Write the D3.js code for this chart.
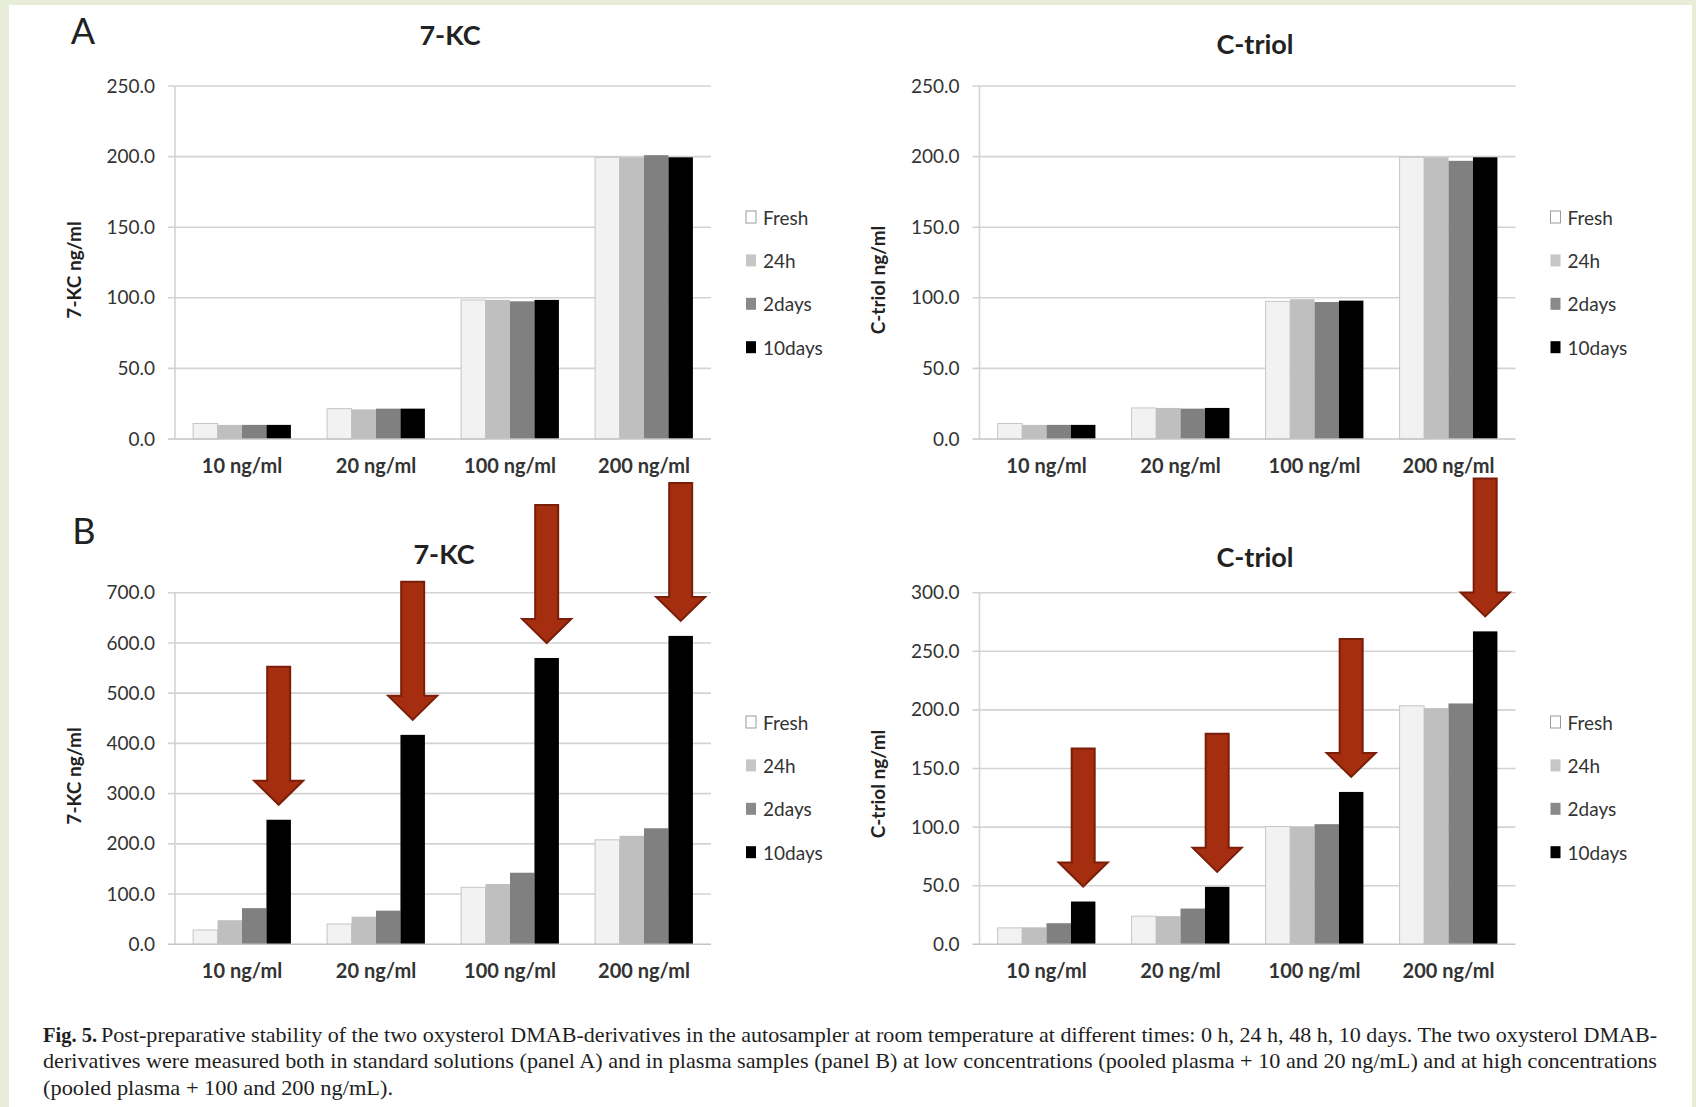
<!DOCTYPE html>
<html>
<head>
<meta charset="utf-8">
<script src="https://cdn.jsdelivr.net/npm/d3@7"></script>
<style>
  html, body { margin: 0; padding: 0; background: #e7edd6; }
  svg { display: block; }
  .sans { font-family: Lato, "Liberation Sans", "DejaVu Sans", sans-serif; }
  .serif { font-family: "Liberation Serif", "DejaVu Serif", serif; }
</style>
</head>
<body>
<svg id="fig" width="1696" height="1107"></svg>
<script>
// ---- data ----------------------------------------------------------
const categories = ["10 ng/ml", "20 ng/ml", "100 ng/ml", "200 ng/ml"];
const seriesNames = ["Fresh", "24h", "2days", "10days"];

// Panel A: standard solutions, 7-KC (ng/ml)
const stdKcFresh  = [11, 21.5, 98.5, 199.5];
const stdKc24h    = [10, 21, 98.5, 199.5];
const stdKc2days  = [10, 21.5, 97.5, 201];
const stdKc10days = [10, 21.5, 98.5, 199.5];

// Panel A: standard solutions, C-triol (ng/ml)
const stdCtFresh  = [11, 22, 97.5, 199.5];
const stdCt24h    = [10, 22, 99, 199.5];
const stdCt2days  = [10, 21.5, 97, 197];
const stdCt10days = [10, 22, 98, 199.5];

// Panel B: plasma samples, 7-KC (ng/ml)
const plKcFresh  = [28.5, 40.5, 113.5, 208];
const plKc24h    = [48, 55, 120, 216];
const plKc2days  = [72, 67, 142.5, 231];
const plKc10days = [248, 417, 570, 614];

// Panel B: plasma samples, C-triol (ng/ml)
const plCtFresh  = [14, 24, 100.5, 203.5];
const plCt24h    = [14.5, 24, 100.5, 201.5];
const plCt2days  = [18, 30.5, 102.5, 205.5];
const plCt10days = [36.5, 49, 130, 267];

// axis ticks
const ticksStd   = [0, 50, 100, 150, 200, 250];
const ticksPlKc  = [0, 100, 200, 300, 400, 500, 600, 700];
const ticksPlCt  = [0, 50, 100, 150, 200, 250, 300];

const captionBold = "Fig. 5.";
const captionLines = [
  "Post-preparative stability of the two oxysterol DMAB-derivatives in the autosampler at room temperature at different times: 0 h, 24 h, 48 h, 10 days. The two oxysterol DMAB-",
  "derivatives were measured both in standard solutions (panel A) and in plasma samples (panel B) at low concentrations (pooled plasma + 10 and 20 ng/mL) and at high concentrations",
  "(pooled plasma + 100 and 200 ng/mL)."
];

// ---- styles --------------------------------------------------------
const barFill   = { "Fresh": "#f2f2f2", "24h": "#bfbfbf", "2days": "#808080", "10days": "#000000" };
const swatchFill = { "Fresh": "#ffffff", "24h": "#c6c6c6", "2days": "#8a8a8a", "10days": "#000000" };
const gridColor = "#d3d3d3";
const arrowFill = "#a52d10";
const arrowStroke = "#7a1e08";

// ---- layout --------------------------------------------------------
const plotW = 536;
const panels = [
  { title: "7-KC", yLabel: "7-KC ng/ml", left: 175, top: 86, bottom: 439,
    series: [stdKcFresh, stdKc24h, stdKc2days, stdKc10days], ticks: ticksStd,
    titleX: 450, titleY: 34, yLabelY: 270, legendY: 217, arrows: false },
  { title: "C-triol", yLabel: "C-triol ng/ml", left: 979.5, top: 86, bottom: 439,
    series: [stdCtFresh, stdCt24h, stdCt2days, stdCt10days], ticks: ticksStd,
    titleX: 1255, titleY: 43, yLabelY: 280, legendY: 217, arrows: false },
  { title: "7-KC", yLabel: "7-KC ng/ml", left: 175, top: 592.7, bottom: 944.3,
    series: [plKcFresh, plKc24h, plKc2days, plKc10days], ticks: ticksPlKc,
    titleX: 444, titleY: 553, yLabelY: 776, legendY: 722, arrows: true },
  { title: "C-triol", yLabel: "C-triol ng/ml", left: 979.5, top: 592.7, bottom: 944.3,
    series: [plCtFresh, plCt24h, plCt2days, plCt10days], ticks: ticksPlCt,
    titleX: 1255, titleY: 556, yLabelY: 784, legendY: 722, arrows: true }
];

const svg = d3.select("#fig");

// page frame
svg.append("rect").attr("x", 9).attr("y", 5).attr("width", 1683).attr("height", 1102).attr("fill", "#ffffff");

// panel letters
svg.append("text").attr("class", "sans").attr("x", 83).attr("y", 30).attr("text-anchor", "middle")
  .attr("dominant-baseline", "central").attr("font-size", 36).attr("fill", "#222").text("A");
svg.append("text").attr("class", "sans").attr("x", 84).attr("y", 530).attr("text-anchor", "middle")
  .attr("dominant-baseline", "central").attr("font-size", 36).attr("fill", "#222").text("B");

panels.forEach(p => {
  const g = svg.append("g");
  const yMax = p.ticks[p.ticks.length - 1];
  const y = d3.scaleLinear().domain([0, yMax]).range([p.bottom, p.top]);
  const x0 = d3.scaleBand().domain(categories).range([p.left, p.left + plotW])
    .paddingInner(0.27).paddingOuter(0.135);
  const x1 = d3.scaleBand().domain(seriesNames).range([0, x0.bandwidth()]).padding(0);

  // gridlines, with short stubs left of the value axis
  g.append("g").selectAll("line").data(p.ticks.filter(t => t > 0)).join("line")
    .attr("x1", p.left - 7).attr("x2", p.left + plotW)
    .attr("y1", d => y(d)).attr("y2", d => y(d))
    .attr("stroke", gridColor).attr("stroke-width", 1.6);

  // vertical value axis line
  g.append("line").attr("x1", p.left).attr("x2", p.left).attr("y1", p.top).attr("y2", p.bottom)
    .attr("stroke", gridColor).attr("stroke-width", 1.6);

  // tick labels
  const yAxis = d3.axisLeft(y).tickValues(p.ticks).tickFormat(d3.format(".1f")).tickSize(0).tickPadding(20);
  g.append("g").attr("transform", `translate(${p.left},0)`).call(yAxis)
    .call(s => s.select(".domain").remove())
    .call(s => s.selectAll("text").attr("class", "sans").attr("font-size", 19).attr("fill", "#333"));

  // bars
  seriesNames.forEach((name, si) => {
    g.append("g").selectAll("rect").data(p.series[si]).join("rect")
      .attr("x", (d, i) => x0(categories[i]) + x1(name))
      .attr("width", x1.bandwidth())
      .attr("y", d => y(d))
      .attr("height", d => y(0) - y(d))
      .attr("fill", barFill[name])
      .attr("stroke", name === "Fresh" ? "#c6c6c6" : "none")
      .attr("stroke-width", 1);
  });

  // category baseline
  g.append("line").attr("x1", p.left - 7).attr("x2", p.left + plotW).attr("y1", p.bottom).attr("y2", p.bottom)
    .attr("stroke", "#c4c4c4").attr("stroke-width", 1.6);

  // category labels
  const xAxis = d3.axisBottom(x0).tickSize(0).tickPadding(20);
  g.append("g").attr("transform", `translate(0,${p.bottom})`).call(xAxis)
    .call(s => s.select(".domain").remove())
    .call(s => s.selectAll("text").attr("class", "sans").attr("font-size", 20).attr("font-weight", 700)
      .attr("fill", "#333"));

  // title
  g.append("text").attr("class", "sans").attr("x", p.titleX).attr("y", p.titleY)
    .attr("text-anchor", "middle").attr("dominant-baseline", "central")
    .attr("font-size", 27).attr("font-weight", 700).attr("fill", "#222").text(p.title);

  // value axis title
  g.append("text").attr("class", "sans")
    .attr("transform", `translate(${p.left - 102},${p.yLabelY}) rotate(-90)`)
    .attr("text-anchor", "middle").attr("dominant-baseline", "central")
    .attr("font-size", 19).attr("font-weight", 700).attr("fill", "#222").text(p.yLabel);

  // legend
  const lg = g.append("g").attr("transform", `translate(${p.left + 571},${p.legendY})`);
  seriesNames.forEach((name, i) => {
    const row = lg.append("g").attr("transform", `translate(0,${i * 43.4})`);
    row.append("rect").attr("x", 0).attr("y", -6).attr("width", 10).attr("height", 12)
      .attr("fill", swatchFill[name]).attr("stroke", name === "Fresh" ? "#9a9a9a" : "none").attr("stroke-width", 1);
    row.append("text").attr("class", "sans").attr("x", 17).attr("y", 0).attr("dominant-baseline", "central")
      .attr("font-size", 19).attr("fill", "#333").text(name);
  });

  // arrows pointing at the 10-day bars
  if (p.arrows) {
    const last = seriesNames[seriesNames.length - 1];
    const vals = p.series[seriesNames.length - 1];
    const shaftHalf = 11.5, headHalf = 24.5, headLen = 24, totalLen = 138, gap = 15;
    g.append("g").selectAll("path").data(vals).join("path")
      .attr("d", (d, i) => {
        const cx = x0(categories[i]) + x1(last) + x1.bandwidth() / 2;
        const tip = y(d) - gap;
        const path = d3.path();
        path.moveTo(cx - shaftHalf, tip - totalLen);
        path.lineTo(cx + shaftHalf, tip - totalLen);
        path.lineTo(cx + shaftHalf, tip - headLen);
        path.lineTo(cx + headHalf, tip - headLen);
        path.lineTo(cx, tip);
        path.lineTo(cx - headHalf, tip - headLen);
        path.lineTo(cx - shaftHalf, tip - headLen);
        path.closePath();
        return path.toString();
      })
      .attr("fill", arrowFill).attr("stroke", arrowStroke).attr("stroke-width", 2).attr("stroke-linejoin", "miter");
  }
});

// ---- caption -------------------------------------------------------
const capX = 43, capRight = 1657, capSize = 21;
const baselines = [1042, 1068, 1095];
svg.append("text").attr("class", "serif").attr("x", capX).attr("y", baselines[0])
  .attr("font-size", capSize).attr("font-weight", 700).attr("fill", "#1e1e1e")
  .attr("textLength", 54).attr("lengthAdjust", "spacingAndGlyphs").text(captionBold);
svg.append("text").attr("class", "serif").attr("x", 101).attr("y", baselines[0])
  .attr("font-size", capSize).attr("fill", "#1e1e1e")
  .attr("textLength", capRight - 101).attr("lengthAdjust", "spacingAndGlyphs").text(captionLines[0]);
svg.append("text").attr("class", "serif").attr("x", capX).attr("y", baselines[1])
  .attr("font-size", capSize).attr("fill", "#1e1e1e")
  .attr("textLength", capRight - capX).attr("lengthAdjust", "spacingAndGlyphs").text(captionLines[1]);
svg.append("text").attr("class", "serif").attr("x", capX).attr("y", baselines[2])
  .attr("font-size", capSize).attr("fill", "#1e1e1e")
  .attr("textLength", 350).attr("lengthAdjust", "spacingAndGlyphs").text(captionLines[2]);
</script>
</body>
</html>
